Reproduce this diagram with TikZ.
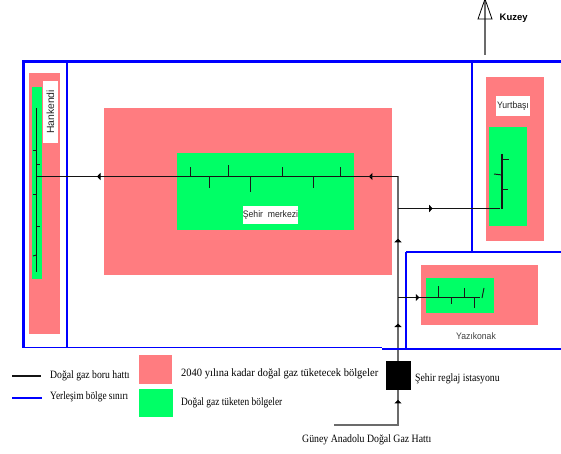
\documentclass[tikz,border=0pt]{standalone}
\usepackage{fontspec}
\setmainfont{Liberation Serif}
\newfontfamily\labelsans{Liberation Sans}
\usetikzlibrary{arrows.meta,decorations.markings}
\definecolor{futurepink}{HTML}{FF7C80}
\definecolor{gasgreen}{HTML}{00FF66}
\tikzset{
  boundary/.style={draw=blue,line width=1.4pt},
  boundarythick/.style={draw=blue,line width=3pt},
  pipe/.style={draw=black!92,line width=1.1pt},
  trunk/.style={draw=black!58,line width=1.2pt},
  twig/.style={draw=black!90,line width=0.95pt},
  flowmark/.style={postaction={decorate},decoration={markings,mark=at position #1 with {\arrow[black]{Triangle[length=3.5pt,width=7pt]}}}},
  futurezone/.style={fill=futurepink,draw=none},
  gaszone/.style={fill=gasgreen,draw=none},
  arealabel/.style={fill=white,inner sep=0pt,font=\labelsans\fontsize{9.4}{10}\selectfont\addfontfeatures{FakeStretch=.92},text=black!85},
  legendtext/.style={inner sep=0pt,anchor=west,font=\fontsize{11.2}{12}\selectfont\addfontfeatures{FakeStretch=#1},text=black},
}
\begin{document}
\begin{tikzpicture}[x=1pt,y=-1pt]
\useasboundingbox (0,0) rectangle (561,454);
% zones
\path[futurezone] (29,73) rectangle (60,334);
\path[gaszone] (32,87) rectangle (42,279);
\path[futurezone] (104,108) rectangle (392,275);
\path[gaszone] (177,153) rectangle (354,230);
\path[futurezone] (486,77) rectangle (544,241);
\path[gaszone] (489,127) rectangle (527,226);
\path[futurezone] (421,265) rectangle (538,325);
\path[gaszone] (426,278) rectangle (494,313);
% boundaries
\draw[boundarythick] (561,61.5) -- (23,61.5) -- (23,347.5);
\draw[boundary] (23,347.5) -- (382,347.5);
\draw[boundary] (67,61.5) -- (67,347.5);
\draw[boundary] (472,61.5) -- (472,251.5);
\draw[boundary] (406,348) -- (406,251.5);
\draw[boundarythick,line width=2pt] (406,251.5) -- (561,251.5);
% labels in zones
\node[arealabel,minimum width=15pt,minimum height=62pt,font=\labelsans\fontsize{10.4}{11}\selectfont] (hankendi) at (50.5,112) {\rotatebox{90}{Hankendi}};
\node[arealabel,minimum width=54pt,minimum height=18pt] (sehir) at (270.5,215) {Şehir\ \ merkezi};
\node[arealabel,minimum width=34pt,minimum height=20pt] (yurtbasi) at (513,106) {Yurtbaşı};
\node[inner sep=0pt,font=\labelsans\fontsize{9.4}{10}\selectfont\addfontfeatures{FakeStretch=.92},text=black!75] (yazikonak) at (476,336) {Yazıkonak};
% station and junctions
\node[fill=black,draw=none,minimum width=25pt,minimum height=29pt,inner sep=0pt] (station) at (398.5,375.5) {};
\coordinate (jmain) at (398,176.5);
\coordinate (jright) at (398,208.5);
\coordinate (jyazi) at (398,297.5);
\coordinate (hank) at (36.5,176.5);
\coordinate (htop) at (36.5,108);
\coordinate (hbot) at (36.5,272);
\coordinate (south) at (398,425);
\coordinate (southend) at (334,425);
\coordinate (yurt) at (500,208.5);
\coordinate (ytop) at (502,154);
\coordinate (ybot) at (502,209);
\coordinate (yaziend) at (480,297.5);
\coordinate (stationtop) at (398,361);
\coordinate (stationbot) at (398,390);
% trunk
\draw[trunk,flowmark=0.59] (stationtop) -- (jyazi);
\draw[trunk,flowmark=0.66] (jyazi) -- (jright);
\draw[trunk] (jright) -- (jmain);
\draw[trunk,flowmark=0.9] (southend) -- (south) -- (stationbot);
% pipelines
\draw[pipe,flowmark=0.0805] (jmain) -- (hank);
\draw[pipe,flowmark=0.8326] (jmain) -- (hank);
\draw[pipe,flowmark=0.34] (jright) -- (yurt);
\draw[pipe,flowmark=0.26] (jyazi) -- (yaziend);
\draw[pipe] (htop) -- (hbot);
\draw[pipe] (ytop) -- (ybot);
% Hankendi twigs
\draw[twig] (36.5,150) -- (32.5,150);
\draw[twig] (36.5,164) -- (40,164);
\draw[twig] (36.5,194) -- (32.5,194);
\draw[twig] (36.5,226.5) -- (40,226.5);
\draw[twig] (36.5,255) -- (33,256);
% Sehir twigs
\draw[twig] (190.7,176.5) -- (190.7,167);
\draw[twig] (228,176.5) -- (228,165);
\draw[twig] (282,176.5) -- (282,167);
\draw[twig] (340,176.5) -- (340,167);
\draw[twig] (209.5,176.5) -- (209.5,188);
\draw[twig] (250,176.5) -- (250,192);
\draw[twig] (313,176.5) -- (313,188);
% Yurtbasi twigs
\draw[twig] (502,159) -- (509,159);
\draw[twig] (502,175) -- (494,174);
\draw[twig] (502,189.5) -- (508,189.5);
% Yazikonak twigs
\draw[twig] (438,297) -- (438,286);
\draw[twig] (464,297) -- (464,288);
\draw[twig] (451,297) -- (451,304);
\draw[twig] (474.5,297) -- (474.5,308);
\draw[twig] (482,298) -- (484,288);
% bottom boundary right part over pipes
\draw[boundarythick,line width=2.6pt] (382,348.8) -- (561,348.8);
% north arrow
\coordinate (northbase) at (485,55);
\coordinate (northapex) at (485,0);
\draw[trunk] (northbase) -- (northapex);
\draw[black,line width=0.8pt] (478,19) -- (485,-1) -- (492,19) -- cycle;
\node[inner sep=0pt,anchor=west,font=\labelsans\bfseries\fontsize{9.5}{10}\selectfont] (kuzey) at (499.5,18.5) {Kuzey};
% legend
\coordinate (l1a) at (12,376); \coordinate (l1b) at (41,376);
\coordinate (l2a) at (12,398); \coordinate (l2b) at (42,398);
\draw[pipe] (l1a) -- (l1b);
\draw[boundary,line width=1.8pt] (l2a) -- (l2b);
\node[legendtext=.866] (t1) at (50,376) {Doğal gaz boru hattı};
\node[legendtext=.835] (t2) at (50,397) {Yerleşim bölge sınırı};
\path[futurezone] (139,355) rectangle (172,384);
\path[gaszone] (139,389) rectangle (173,417);
\node[legendtext=.94] (t3) at (181,374) {2040 yılına kadar doğal gaz tüketecek bölgeler};
\node[legendtext=.836] (t4) at (181,403) {Doğal gaz tüketen bölgeler};
\node[legendtext=.87] (t5) at (415,379) {Şehir reglaj istasyonu};
\node[legendtext=.876] (t6) at (302,440) {Güney Anadolu Doğal Gaz Hattı};
\end{tikzpicture}
\end{document}
